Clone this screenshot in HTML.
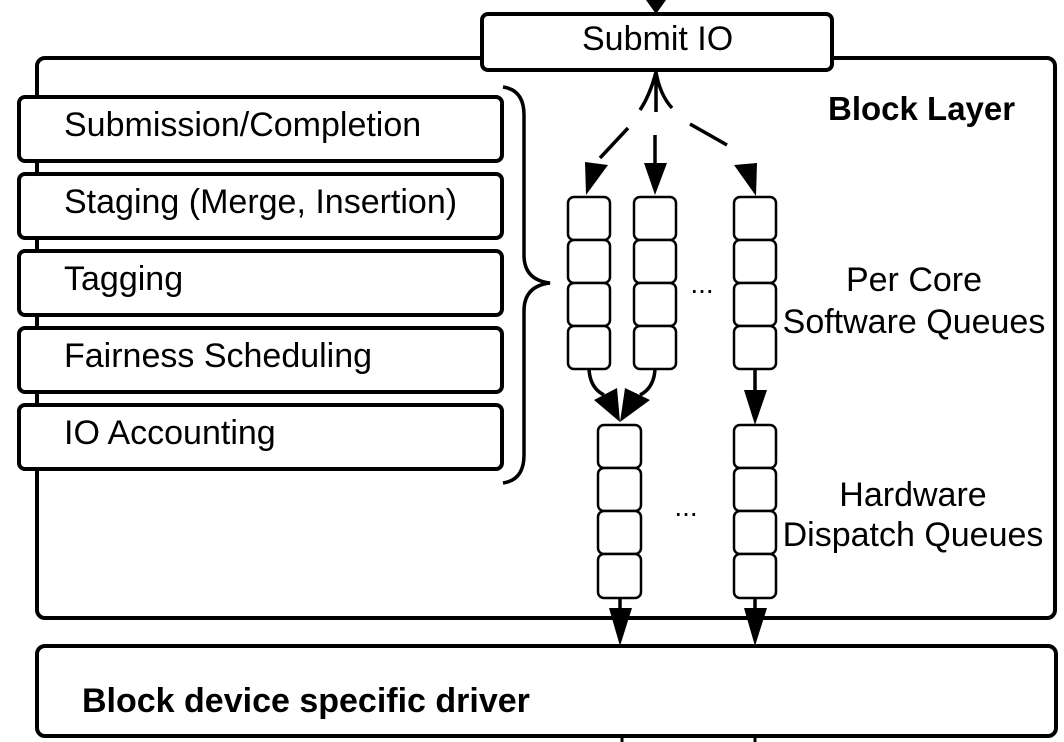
<!DOCTYPE html>
<html><head><meta charset="utf-8"><style>html,body{margin:0;padding:0;background:#fff}svg{display:block}</style></head>
<body>
<svg width="1064" height="742" viewBox="0 0 1064 742" xmlns="http://www.w3.org/2000/svg" font-family="Liberation Sans, Arial, sans-serif">
<g fill="none" stroke="#000" stroke-width="4">
<rect x="37" y="58" width="1018" height="560" rx="8"/>
<rect x="37" y="646" width="1019" height="90" rx="8"/>
<rect x="482" y="14" width="350" height="56" rx="6" fill="#fff"/>
<line x1="656" y1="0" x2="656" y2="6"/>
<rect x="19" y="97" width="483" height="64" rx="6" fill="#fff"/>
<rect x="19" y="174" width="483" height="64" rx="6" fill="#fff"/>
<rect x="19" y="251" width="483" height="64" rx="6" fill="#fff"/>
<rect x="19" y="328" width="483" height="64" rx="6" fill="#fff"/>
<rect x="19" y="405" width="483" height="64" rx="6" fill="#fff"/>
<path d="M503 87 Q524 90 524 115 L524 255 Q524 280 550 283 Q524 286 524 311 L524 455 Q524 480 503 483" stroke-width="3.5"/>
<path d="M656 72 Q650 95 640 110 M656 72 L656 112 M656 72 Q660 95 672 108" stroke-width="3.5"/>
<path d="M628 128 L600 158" stroke-width="3.5"/>
<line x1="655" y1="135" x2="655" y2="165" stroke-width="3.5"/>
<path d="M690 124 L727 145" stroke-width="3.5"/>
<g stroke-width="2.5" fill="#fff">
<rect x="568" y="197" width="42" height="43" rx="6"/><rect x="568" y="240" width="42" height="43" rx="6"/><rect x="568" y="283" width="42" height="43" rx="6"/><rect x="568" y="326" width="42" height="43" rx="6"/>
<rect x="634" y="197" width="42" height="43" rx="6"/><rect x="634" y="240" width="42" height="43" rx="6"/><rect x="634" y="283" width="42" height="43" rx="6"/><rect x="634" y="326" width="42" height="43" rx="6"/>
<rect x="734" y="197" width="42" height="43" rx="6"/><rect x="734" y="240" width="42" height="43" rx="6"/><rect x="734" y="283" width="42" height="43" rx="6"/><rect x="734" y="326" width="42" height="43" rx="6"/>
<rect x="598" y="425" width="43" height="43" rx="6"/><rect x="598" y="468" width="43" height="43" rx="6"/><rect x="598" y="511" width="43" height="43" rx="6"/><rect x="598" y="554" width="43" height="44" rx="6"/>
<rect x="734" y="425" width="42" height="43" rx="6"/><rect x="734" y="468" width="42" height="43" rx="6"/><rect x="734" y="511" width="42" height="43" rx="6"/><rect x="734" y="554" width="42" height="44" rx="6"/>
</g>
<path d="M589 369 Q590 388 604 395" stroke-width="3.5"/>
<path d="M655 369 Q654 388 640 395" stroke-width="3.5"/>
<line x1="755" y1="369" x2="755" y2="392" stroke-width="3.5"/>
<line x1="620" y1="598" x2="620" y2="612" stroke-width="3.5"/>
<line x1="755" y1="598" x2="755" y2="612" stroke-width="3.5"/>
<line x1="622" y1="736" x2="622" y2="742" stroke-width="3"/>
<line x1="755" y1="736" x2="755" y2="742" stroke-width="3"/>
</g>
<g fill="#000">
<polygon points="646,0 666,0 656,14"/>
<polygon points="585,162 608,165 586,195"/>
<polygon points="644,163 667,163 655,195"/>
<polygon points="734,165 757,163 756,196"/>
<polygon points="594,400 620,422 617,388"/>
<polygon points="650,400 620,422 625,388"/>
<polygon points="744,390 767,390 755,425"/>
<polygon points="609,608 632,608 620,646"/>
<polygon points="744,608 767,608 755,646"/>
</g>
<g font-size="34" fill="#000">
<text x="582" y="50">Submit IO</text>
<text x="64" y="136">Submission/Completion</text>
<text x="64" y="213">Staging (Merge, Insertion)</text>
<text x="64" y="290">Tagging</text>
<text x="64" y="367">Fairness Scheduling</text>
<text x="64" y="444">IO Accounting</text>
<text x="914" y="291" text-anchor="middle">Per Core</text>
<text x="914" y="333" text-anchor="middle">Software Queues</text>
<text x="913" y="506" text-anchor="middle">Hardware</text>
<text x="913" y="546" text-anchor="middle">Dispatch Queues</text>
<text x="702" y="293" text-anchor="middle" font-size="28">...</text>
<text x="686" y="516" text-anchor="middle" font-size="28">...</text>
<text x="828" y="120" font-weight="bold" font-size="33">Block Layer</text>
<text x="82" y="712" font-weight="bold" font-size="34">Block device specific driver</text>
</g>
</svg>
</body></html>
